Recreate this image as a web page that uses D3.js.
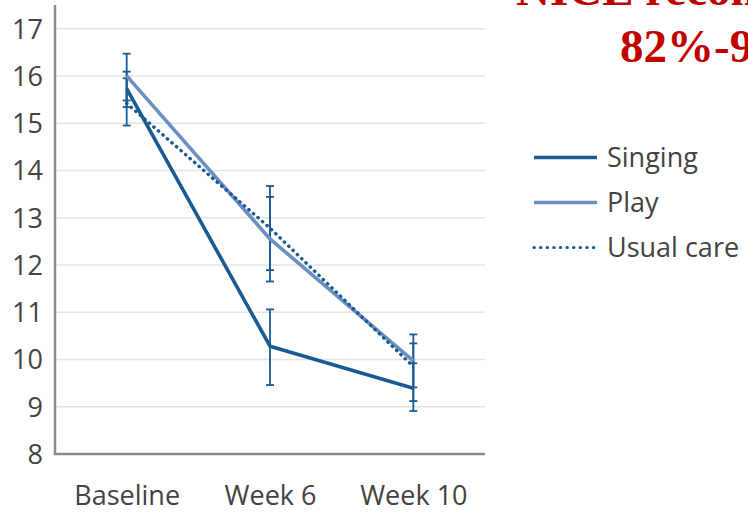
<!DOCTYPE html>
<html>
<head>
<meta charset="utf-8">
<script src="https://cdn.jsdelivr.net/npm/d3@7"></script>
<style>
  html, body { margin: 0; padding: 0; background: #fff; overflow: hidden; }
  svg { display: block; }
</style>
</head>
<body>
<svg id="chart" width="748" height="513"></svg>
<script>
// ---- data ----
const categories = ["Baseline", "Week 6", "Week 10"];
const seriesNames = ["Singing", "Play", "Usual care"];
const singing = [15.73, 10.28, 9.39];
const play = [16.0, 12.55, 9.97];
const usualCare = [15.42, 12.78, 9.85];
const singingLo = [15.34, 9.46, 8.91];
const singingHi = [16.09, 11.06, 9.92];
const playLo = [15.48, 11.65, 9.41];
const playHi = [16.47, 13.44, 10.53];
const usualLo = [14.95, 11.89, 9.12];
const usualHi = [15.95, 13.67, 10.34];
const yTicks = [8, 9, 10, 11, 12, 13, 14, 15, 16, 17];
const titleLines = ["NICE recommends", "82%-90%"];

(function () {
const series = [
  { name: seriesNames[0], values: singing, lo: singingLo, hi: singingHi, color: "#1a5a93", dash: null },
  { name: seriesNames[1], values: play, lo: playLo, hi: playHi, color: "#6b90c0", dash: null },
  { name: seriesNames[2], values: usualCare, lo: usualLo, hi: usualHi, color: "#1a5a93", dash: "0.3,5.7" }
];

const svg = d3.select("#chart");
const mLeft = 55, mRight = 485, mTop = 5, mBottom = 454;
const font = "'Open Sans', sans-serif";
const textColor = "#434343";

const x = d3.scalePoint().domain(categories).range([mLeft, mRight]).padding(0.5);
const y = d3.scaleLinear().domain([8, 17.5]).range([mBottom, mTop]);

// gridlines
svg.append("g").selectAll("line").data(yTicks.filter(d => d > 8)).join("line")
  .attr("x1", mLeft).attr("x2", mRight)
  .attr("y1", d => y(d)).attr("y2", d => y(d))
  .attr("stroke", "#e4e4e4").attr("stroke-width", 1.5);

// y axis
const yAxis = d3.axisLeft(y).tickValues(yTicks).tickSize(0).tickPadding(12).tickFormat(d3.format("d"));
const gy = svg.append("g").attr("transform", `translate(${mLeft},0)`).call(yAxis);
gy.select(".domain").remove();
gy.selectAll("text").attr("font-family", font).attr("font-size", 27)
  .attr("fill", textColor).attr("dy", "0.35em");

// x axis
const xAxis = d3.axisBottom(x).tickSize(0).tickPadding(32);
const gx = svg.append("g").attr("transform", `translate(0,${mBottom})`).call(xAxis);
gx.select(".domain").remove();
gx.selectAll("text").attr("font-family", font).attr("font-size", 27)
  .attr("fill", textColor).attr("dy", "0.71em");

// axis lines
svg.append("line").attr("x1", mLeft).attr("x2", mLeft).attr("y1", mTop).attr("y2", mBottom)
  .attr("stroke", "#8a8a8a").attr("stroke-width", 2.5);
svg.append("line").attr("x1", mLeft - 1.25).attr("x2", mRight).attr("y1", mBottom).attr("y2", mBottom)
  .attr("stroke", "#8a8a8a").attr("stroke-width", 2.5);

// error bars
const capW = 4;
series.forEach(s => {
  const g = svg.append("g");
  categories.forEach((c, i) => {
    const cx = x(c);
    g.append("line").attr("x1", cx).attr("x2", cx).attr("y1", y(s.lo[i])).attr("y2", y(s.hi[i]))
      .attr("stroke", "#1a5a93").attr("stroke-width", 1.8);
    [s.lo[i], s.hi[i]].forEach(v => {
      g.append("line").attr("x1", cx - capW).attr("x2", cx + capW).attr("y1", y(v)).attr("y2", y(v))
        .attr("stroke", "#1a5a93").attr("stroke-width", 1.8);
    });
  });
});

// lines
const line = d3.line().x((d, i) => x(categories[i])).y(d => y(d));
[series[1], series[2], series[0]].forEach(s => {
  const p = svg.append("path").datum(s.values).attr("d", line)
    .attr("fill", "none").attr("stroke", s.color)
    .attr("stroke-width", s.dash ? 3.4 : 3.6)
    .attr("stroke-linejoin", "round");
  if (s.dash) p.attr("stroke-dasharray", s.dash).attr("stroke-linecap", "round");
});

// legend
const legY = d3.scalePoint().domain(seriesNames).range([157.5, 247.5]);
const lg = svg.append("g");
series.forEach(s => {
  const yy = legY(s.name);
  const l = lg.append("line").attr("x1", 534).attr("x2", 597).attr("y1", yy).attr("y2", yy)
    .attr("stroke", s.color).attr("stroke-width", s.dash ? 3.2 : 3.6);
  if (s.dash) l.attr("stroke-dasharray", "0.3,6.3").attr("stroke-linecap", "round");
  lg.append("text").attr("x", 607).attr("y", yy).attr("dy", "0.35em")
    .attr("font-family", font).attr("font-size", 27)
    .attr("fill", textColor).text(s.name);
});

// red title
svg.append("text").attr("x", 516).attr("y", 5)
  .attr("font-family", "'Liberation Serif', 'Times New Roman', serif").attr("font-weight", "bold")
  .attr("font-size", 47).attr("fill", "#c00000").text(titleLines[0]);
svg.append("text").attr("x", 620).attr("y", 62)
  .attr("font-family", "'Liberation Serif', 'Times New Roman', serif").attr("font-weight", "bold")
  .attr("font-size", 47).attr("fill", "#c00000").text(titleLines[1]);
})();
</script>
</body>
</html>
